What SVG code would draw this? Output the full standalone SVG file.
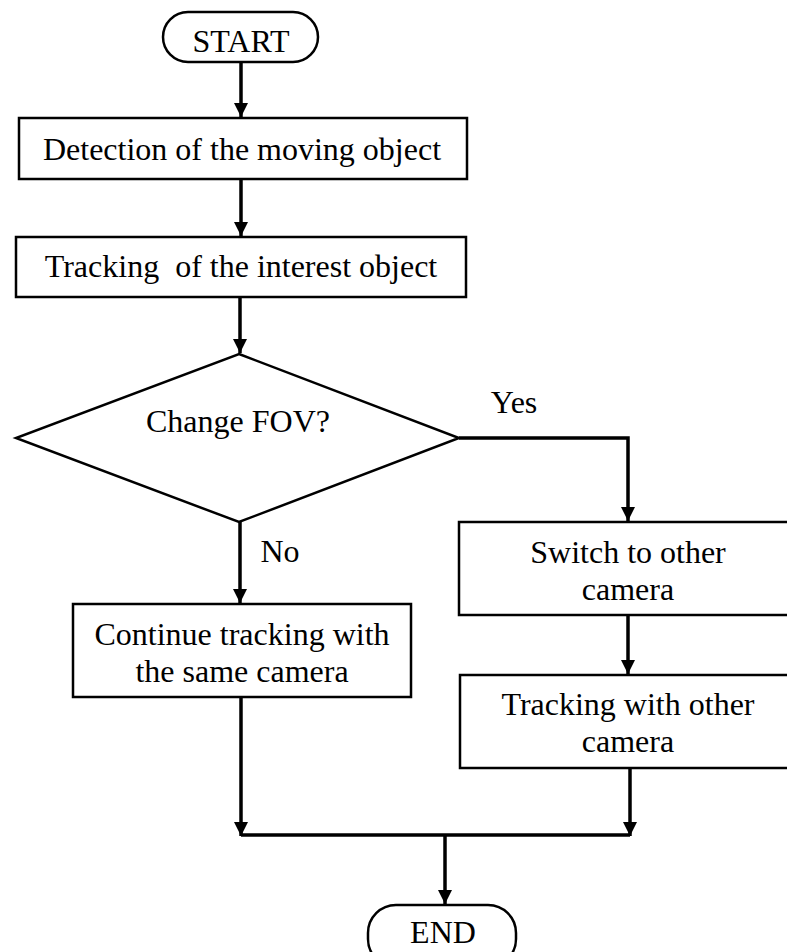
<svg xmlns="http://www.w3.org/2000/svg" width="787" height="952" viewBox="0 0 787 952">
<style>
.box{fill:#fff;stroke:#000;stroke-width:2.5}
.ln{fill:none;stroke:#000;stroke-width:3.5}
.t{font-family:'Liberation Serif','Times New Roman','DejaVu Serif',serif;font-size:32px;fill:#000;text-anchor:middle}
</style>
<defs>
<marker id="ah" markerUnits="userSpaceOnUse" markerWidth="16" markerHeight="14" refX="14" refY="7" orient="auto" viewBox="0 0 14 14">
<path d="M0,0 L14,7 L0,14 Z" fill="#000"/>
</marker>
</defs>
<g id="connectors">
<line class="ln" x1="241" y1="62" x2="241" y2="117" marker-end="url(#ah)"/>
<line class="ln" x1="241" y1="179" x2="241" y2="236" marker-end="url(#ah)"/>
<line class="ln" x1="240" y1="297" x2="240" y2="353" marker-end="url(#ah)"/>
<line class="ln" x1="240" y1="522" x2="240" y2="603" marker-end="url(#ah)"/>
<polyline class="ln" points="459,438 628,438 628,521" marker-end="url(#ah)"/>
<line class="ln" x1="628" y1="615" x2="628" y2="674" marker-end="url(#ah)"/>
<line class="ln" x1="241" y1="697" x2="241" y2="836" marker-end="url(#ah)"/>
<line class="ln" x1="630" y1="768" x2="630" y2="836" marker-end="url(#ah)"/>
<line class="ln" x1="241" y1="835" x2="630" y2="835"/>
<line class="ln" x1="445" y1="835" x2="445" y2="904" marker-end="url(#ah)"/>
<text class="t" x="514" y="413">Yes</text>
<text class="t" x="280" y="562">No</text>
</g>
<g id="start">
<rect class="box" x="163" y="12" width="155" height="50" rx="25"/>
<text class="t" x="241" y="52">START</text>
</g>
<g id="detect">
<rect class="box" x="19" y="118" width="448" height="61"/>
<text class="t" x="242" y="160">Detection of the moving object</text>
</g>
<g id="track">
<rect class="box" x="16" y="237" width="450" height="60"/>
<text class="t" x="241" y="277" xml:space="preserve">Tracking  of the interest object</text>
</g>
<g id="decision">
<polygon class="box" points="239,354 459,438 239,522 16,438"/>
<text class="t" x="238" y="432">Change FOV?</text>
</g>
<g id="continue">
<rect class="box" x="73" y="604" width="338" height="93"/>
<text class="t" x="242" y="645">Continue tracking with</text>
<text class="t" x="242" y="682">the same camera</text>
</g>
<g id="switch">
<rect class="box" x="459" y="522" width="345" height="93"/>
<text class="t" x="628" y="563">Switch to other</text>
<text class="t" x="628" y="600">camera</text>
</g>
<g id="trackother">
<rect class="box" x="460" y="675" width="345" height="93"/>
<text class="t" x="628" y="715">Tracking with other</text>
<text class="t" x="628" y="752">camera</text>
</g>
<g id="end">
<rect class="box" x="368" y="905" width="148" height="62" rx="28"/>
<text class="t" x="443" y="943">END</text>
</g>
</svg>
